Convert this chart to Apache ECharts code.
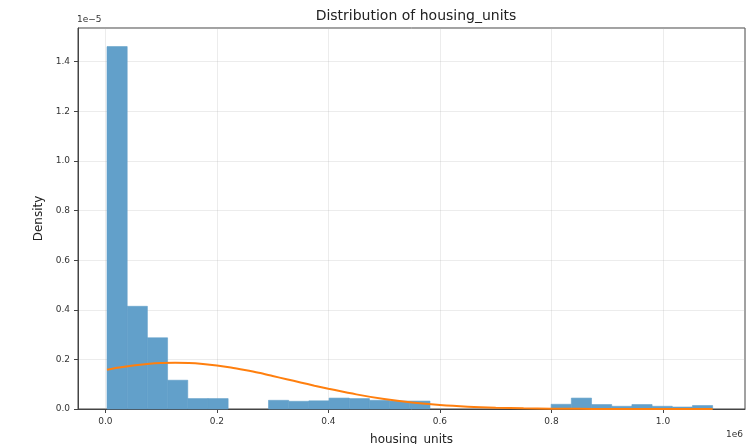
<!DOCTYPE html>
<html>
<head>
<meta charset="utf-8">
<script src="https://cdn.jsdelivr.net/npm/echarts@6/dist/echarts.min.js"></script>
<style>
  html, body { margin: 0; padding: 0; background: #fff; }
  #chart { width: 748px; height: 444px; }
</style>
</head>
<body>
<div id="chart"></div>
<script>
// Histogram of housing_units (x in units of 1e6, density in units of 1e-5)
var binEdges = [0.0030, 0.0392, 0.0754, 0.1116, 0.1478, 0.1840, 0.2202, 0.2564,
  0.2926, 0.3288, 0.3650, 0.4012, 0.4374, 0.4736, 0.5098, 0.5460, 0.5822,
  0.6184, 0.6546, 0.6908, 0.7270, 0.7632, 0.7994, 0.8356, 0.8718, 0.9080,
  0.9442, 0.9804, 1.0166, 1.0528, 1.0890];
var densities = [1.461, 0.414, 0.287, 0.116, 0.042, 0.042, 0, 0,
  0.035, 0.031, 0.033, 0.044, 0.042, 0.035, 0.032, 0.032,
  0, 0, 0, 0, 0, 0,
  0.019, 0.044, 0.018, 0.011, 0.018, 0.011, 0.008, 0.014];

// Fitted density curve
var curveX = [0.003, 0.025, 0.05, 0.075, 0.10, 0.125, 0.15, 0.175, 0.20, 0.225,
  0.25, 0.275, 0.30, 0.325, 0.35, 0.375, 0.40, 0.45, 0.50, 0.55, 0.60, 0.65,
  0.70, 0.75, 0.80, 0.85, 0.90, 0.95, 1.00, 1.089];
var curveY = [0.158, 0.167, 0.175, 0.181, 0.185, 0.186, 0.185, 0.181, 0.175, 0.167,
  0.157, 0.146, 0.133, 0.120, 0.107, 0.094, 0.082, 0.059, 0.040, 0.026, 0.016, 0.0093,
  0.0051, 0.0027, 0.0013, 0.0006, 0.0003, 0.0001, 0.0, 0.0];

var xTicks = [0.0, 0.2, 0.4, 0.6, 0.8, 1.0];

var barData = densities.map(function (d, i) {
  return [binEdges[i], binEdges[i + 1], d];
});
var curveData = curveX.map(function (x, i) { return [x, curveY[i]]; });

var FONT = 'DejaVu Sans';
var BAR = 'rgb(98,160,202)';
var chart = echarts.init(document.getElementById('chart'), null, { renderer: 'canvas' });

chart.setOption({
  animation: false,
  backgroundColor: '#ffffff',
  title: {
    text: 'Distribution of housing_units',
    left: 411, top: 4, textAlign: 'center',
    textStyle: { fontFamily: FONT, fontSize: 14, fontWeight: 'normal', color: '#222' }
  },
  grid: {
    left: 78, top: 28, right: 3, bottom: 35,
    outerBoundsMode: 'none', containLabel: false,
    show: true, borderColor: '#444', borderWidth: 1, backgroundColor: 'transparent'
  },
  xAxis: {
    type: 'value',
    min: -0.049, max: 1.147,
    name: 'housing_units', nameLocation: 'middle', nameGap: 25,
    nameTextStyle: { fontFamily: FONT, fontSize: 12, color: '#222' },
    axisLine: { show: true, onZero: false, lineStyle: { color: '#444', width: 1 } },
    axisTick: { show: true, length: 4, customValues: xTicks, lineStyle: { color: '#444' } },
    axisLabel: {
      customValues: xTicks, margin: 8,
      fontFamily: FONT, fontSize: 9, color: '#333',
      formatter: function (v) { return v.toFixed(1); }
    },
    splitLine: { show: true, lineStyle: { color: 'rgba(176,176,176,0.3)', width: 0.8 } }
  },
  yAxis: {
    type: 'value',
    min: 0, max: 1.536, interval: 0.2,
    name: 'Density', nameLocation: 'middle', nameGap: 32,
    nameTextStyle: { fontFamily: FONT, fontSize: 12, color: '#222' },
    axisLine: { show: true, onZero: false, lineStyle: { color: '#444', width: 1 } },
    axisTick: { show: true, length: 4, lineStyle: { color: '#444' } },
    axisLabel: {
      margin: 8, showMaxLabel: false,
      fontFamily: FONT, fontSize: 9, color: '#333',
      formatter: function (v) { return v.toFixed(1); }
    },
    splitLine: { show: true, lineStyle: { color: 'rgba(176,176,176,0.3)', width: 0.8 } }
  },
  graphic: [
    { type: 'text', left: 77, top: 15,
      style: { text: '1e\u22125', fontFamily: FONT, fontSize: 9, fill: '#333' } },
    { type: 'text', left: 726, top: 430,
      style: { text: '1e6', fontFamily: FONT, fontSize: 9, fill: '#333' } }
  ],
  series: [
    {
      type: 'custom',
      data: barData,
      encode: { x: [0, 1], y: 2 },
      renderItem: function (params, api) {
        if (!(api.value(2) > 0)) return null;
        var p0 = api.coord([api.value(0), api.value(2)]);
        var p1 = api.coord([api.value(1), 0]);
        return {
          type: 'rect',
          shape: { x: p0[0], y: p0[1], width: p1[0] - p0[0], height: p1[1] - p0[1] },
          style: { fill: BAR, stroke: BAR, lineWidth: 0.6 }
        };
      },
      z: 2
    },
    {
      type: 'line',
      data: curveData,
      smooth: 0.3,
      showSymbol: false,
      lineStyle: { color: '#ff7f0e', width: 2 },
      z: 3
    }
  ]
});
</script>
</body>
</html>
